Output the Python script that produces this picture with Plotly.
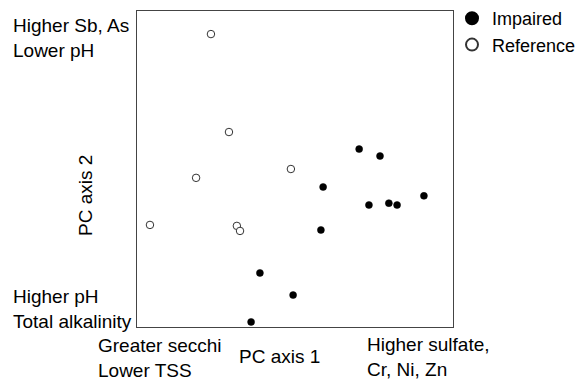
import plotly.graph_objects as go

# PCA site scores (arbitrary units)
ref_x = [2.34, 2.91, 1.87, 4.87, 0.41, 3.16, 3.26]
ref_y = [9.27, 6.17, 4.72, 5.00, 3.23, 3.20, 3.04]
imp_x = [7.03, 7.69, 5.89, 7.34, 7.97, 8.23, 9.08, 5.82, 3.89, 4.94, 3.61]
imp_y = [5.63, 5.41, 4.43, 3.86, 3.92, 3.86, 4.15, 3.07, 1.71, 1.01, 0.16]

series_names = ["Impaired", "Reference"]
x_title = "PC axis 1"
y_title = "PC axis 2"
corner_labels = {
    "top_left": "Higher Sb, As<br>Lower pH",
    "bottom_left": "Higher pH<br>Total alkalinity",
    "x_low": "Greater secchi<br>Lower TSS",
    "x_high": "Higher sulfate,<br>Cr, Ni, Zn",
}

FONT = "Liberation Sans, Arial, sans-serif"
FS = 19
W, H = 582, 381
L, R, T, B = 137, 129, 11, 54
pw, ph = W - L - R, H - T - B

def px(xp):
    return (xp - L) / pw

def py(yp):
    return (H - B - yp) / ph

fig = go.Figure()
fig.add_trace(go.Scatter(
    x=imp_x, y=imp_y, mode="markers", name=series_names[0],
    marker=dict(size=7, color="black", line=dict(color="black", width=0.5)),
))
fig.add_trace(go.Scatter(
    x=ref_x, y=ref_y, mode="markers", name=series_names[1],
    marker=dict(size=7.5, color="white", line=dict(color="#333", width=1)),
))

ann = []
ann.append(dict(text=corner_labels["top_left"], x=px(11), y=py(38), xanchor="left", yanchor="middle", align="left"))
ann.append(dict(text=corner_labels["bottom_left"], x=px(11), y=py(309), xanchor="left", yanchor="middle", align="left"))
ann.append(dict(text=corner_labels["x_low"], x=px(96), y=py(358), xanchor="left", yanchor="middle", align="left"))
ann.append(dict(text=corner_labels["x_high"], x=px(365), y=py(357), xanchor="left", yanchor="middle", align="left"))
ann.append(dict(text=x_title, x=px(279), y=py(356), xanchor="center", yanchor="middle"))
ann.append(dict(text=y_title, x=px(85), y=py(196), xanchor="center", yanchor="middle", textangle=-90))
for a in ann:
    a.update(xref="paper", yref="paper", showarrow=False, font=dict(family=FONT, size=FS, color="black"))
fig.update_layout(annotations=ann)

fig.update_layout(
    width=W, height=H,
    margin=dict(l=L, r=R, t=T, b=B, autoexpand=False),
    paper_bgcolor="white", plot_bgcolor="white",
    font=dict(family=FONT, size=FS, color="black"),
    showlegend=True,
    legend=dict(xref="container", yref="container", x=452 / W, y=1.0,
                xanchor="left", yanchor="top",
                font=dict(family=FONT, size=18), tracegroupgap=0, itemsizing="constant",
                bgcolor="rgba(0,0,0,0)"),
    xaxis=dict(range=[0, 10], showgrid=False, zeroline=False, showticklabels=False, ticks="",
               showline=True, mirror=True, linecolor="#444", linewidth=1),
    yaxis=dict(range=[0, 10], showgrid=False, zeroline=False, showticklabels=False, ticks="",
               showline=True, mirror=True, linecolor="#444", linewidth=1),
)

fig.write_html("out.html")
